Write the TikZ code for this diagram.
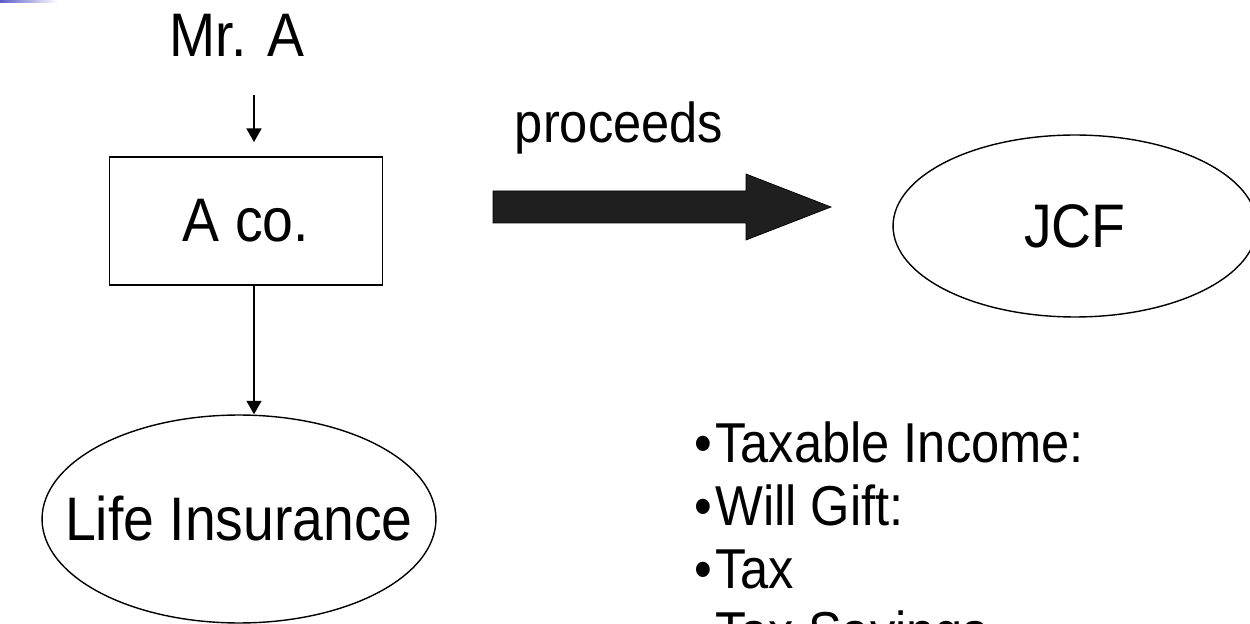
\documentclass[tikz,border=0pt]{standalone}
\usepackage{fontspec}
\setmainfont{Liberation Sans}[FakeStretch=0.9]
\usetikzlibrary{arrows.meta,shapes.geometric}
\definecolor{blockfill}{HTML}{1F1F1F}
\definecolor{cornerblue}{HTML}{5C5CC8}
\tikzset{
  bigtext/.style={font=\fontsize{35}{42}\selectfont},
  listtext/.style={font=\fontsize{32}{38}\selectfont},
  oval/.style={draw, ellipse, line width=0.8pt, inner sep=-1cm},
  link/.style={line width=0.85pt,-{Triangle[width=0.3cm,length=0.27cm]}},
}
\begin{document}
\begin{tikzpicture}[x=0.02cm,y=-0.02cm]
    \useasboundingbox (0,0) rectangle (1250,624);
    % Corner
    \shade[left color=cornerblue, right color=white] (0,0) rectangle (58,3);

    % Parties
    \node[bigtext, anchor=base] (mra) at (237,57) {Mr. A};
    \node[bigtext, draw, line width=0.85pt, minimum width=5.46cm, minimum height=2.56cm] (aco) at (246,221) {A co.};
    \node[bigtext, oval, minimum width=7.88cm, minimum height=4.16cm] (lins) at (239,519) {Life Insurance};
    \node[bigtext, oval, minimum width=7.28cm, minimum height=3.64cm] (jcf) at (1075,226) {JCF};

    % Links
    \coordinate (spine) at (254,0);
    \coordinate (mra-out) at (254,95);
    \coordinate (aco-in) at (254,142);
    \draw[link] (mra-out) -- (aco-in);
    \draw[link] (aco.south -| spine) -- (lins.north -| spine);

    % Proceeds
    \node[listtext, anchor=base] (proc) at (619,143) {proceeds};
    \draw[fill=blockfill, line width=0.4pt] (493,191) -- (746,191) -- (746,174) -- (831,207)
        -- (746,240) -- (746,223) -- (493,223) -- cycle;

    % Bullets
    \foreach \txt [count=\i] in {Taxable Income:,Will Gift:,Tax,Tax Savings}
    {\node[listtext, anchor=base west] (item\i) at (688, 399+63*\i) {•\kern2pt\txt};}
\end{tikzpicture}
\end{document}
